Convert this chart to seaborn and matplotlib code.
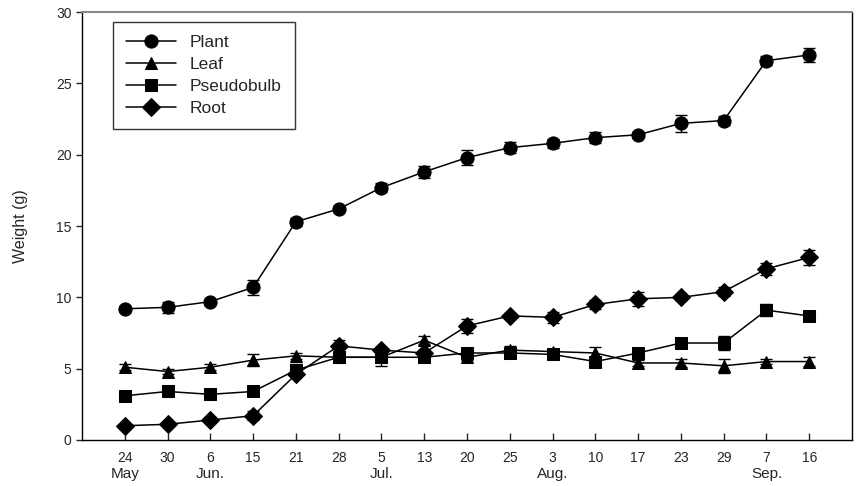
import numpy as np
import pandas as pd
import matplotlib
matplotlib.use("Agg")
import matplotlib.pyplot as plt
import seaborn as sns
from matplotlib.transforms import blended_transform_factory

# Sampling dates (day of month) and month labels
days = ["24", "30", "6", "15", "21", "28", "5", "13", "20", "25",
        "3", "10", "17", "23", "29", "7", "16"]
months = ["May", "Jun.", "Jul.", "Aug.", "Sep."]
month_pos = [0, 2, 6, 10, 15]

# Fresh weight (g) and standard errors
plant = [9.2, 9.3, 9.7, 10.7, 15.3, 16.2, 17.7, 18.8, 19.8, 20.5,
         20.8, 21.2, 21.4, 22.2, 22.4, 26.6, 27.0]
plant_err = [0.2, 0.4, 0.2, 0.5, 0.3, 0.2, 0.3, 0.4, 0.5, 0.4,
             0.3, 0.4, 0.2, 0.6, 0.3, 0.3, 0.5]
leaf = [5.1, 4.8, 5.1, 5.6, 5.9, 5.8, 5.8, 7.0, 5.8, 6.3,
        6.2, 6.1, 5.4, 5.4, 5.2, 5.5, 5.5]
leaf_err = [0.2, 0.2, 0.2, 0.4, 0.2, 0.2, 0.2, 0.3, 0.2, 0.3,
            0.2, 0.4, 0.2, 0.3, 0.5, 0.2, 0.3]
pseudobulb = [3.1, 3.4, 3.2, 3.4, 4.9, 5.8, 5.8, 5.8, 6.1, 6.1,
              6.0, 5.5, 6.1, 6.8, 6.8, 9.1, 8.7]
pseudobulb_err = [0.2, 0.2, 0.2, 0.2, 0.4, 0.3, 0.6, 0.3, 0.2, 0.2,
                  0.2, 0.2, 0.3, 0.2, 0.5, 0.4, 0.2]
root = [1.0, 1.1, 1.4, 1.7, 4.6, 6.6, 6.3, 6.1, 8.0, 8.7,
        8.6, 9.5, 9.9, 10.0, 10.4, 12.0, 12.8]
root_err = [0.1, 0.1, 0.2, 0.3, 0.2, 0.4, 0.2, 0.2, 0.5, 0.2,
            0.4, 0.3, 0.5, 0.2, 0.3, 0.4, 0.5]

series = [("Plant", plant, plant_err, "o"),
          ("Leaf", leaf, leaf_err, "^"),
          ("Pseudobulb", pseudobulb, pseudobulb_err, "s"),
          ("Root", root, root_err, "D")]

x = np.arange(len(days))
frames = []
for name, vals, errs, _ in series:
    frames.append(pd.DataFrame({"pos": x, "weight": vals, "err": errs, "part": name}))
df = pd.concat(frames, ignore_index=True)

sns.set_style("ticks")
plt.rcParams["font.family"] = ["Liberation Sans", "DejaVu Sans"]

fig = plt.figure(figsize=(8.58, 4.86), dpi=100)
ax = fig.add_axes([0.0956, 0.0947, 0.8974, 0.8803])

sizes = {"Plant": 9.5, "Leaf": 9, "Pseudobulb": 8.5, "Root": 9}
for name, vals, errs, mk in series:
    sub = df[df["part"] == name]
    ax.errorbar(sub["pos"], sub["weight"], yerr=sub["err"], fmt="none",
                ecolor="black", elinewidth=1, capsize=4, capthick=1, zorder=2)
    sns.lineplot(data=sub, x="pos", y="weight", ax=ax, color="black",
                 marker=mk, markersize=sizes[name], markeredgecolor="black",
                 markerfacecolor="black", linewidth=1.1, label=name,
                 zorder=3)

ax.set_xlim(-1, 17)
ax.set_ylim(0, 30)
ax.set_yticks([0, 5, 10, 15, 20, 25, 30])
ax.set_xticks(x)
ax.set_xticklabels(days, fontsize=10)
ax.tick_params(axis="x", direction="in", length=5, width=1, pad=8)
ax.tick_params(axis="y", direction="out", length=4, width=1, labelsize=10)
ax.set_xlabel("")
ax.set_ylabel("Weight (g)", fontsize=11.5, labelpad=20)

for s in ax.spines.values():
    s.set_visible(True)
    s.set_color("black")
    s.set_linewidth(1)
ax.spines["top"].set_color("#888888")
ax.spines["top"].set_linewidth(1.5)

trans = blended_transform_factory(ax.transData, ax.transAxes)
for lab, p in zip(months, month_pos):
    ax.text(p, -0.062, lab, transform=trans, ha="center", va="top", fontsize=11)

leg = ax.legend(loc="upper left", bbox_to_anchor=(0.04, 0.977), frameon=True,
                fancybox=False, edgecolor="black", fontsize=12.5,
                handlelength=2.9, borderpad=0.75, labelspacing=0.4,
                handletextpad=0.8, borderaxespad=0)
leg.get_frame().set_linewidth(1)

fig.savefig("out.png", dpi=100)
